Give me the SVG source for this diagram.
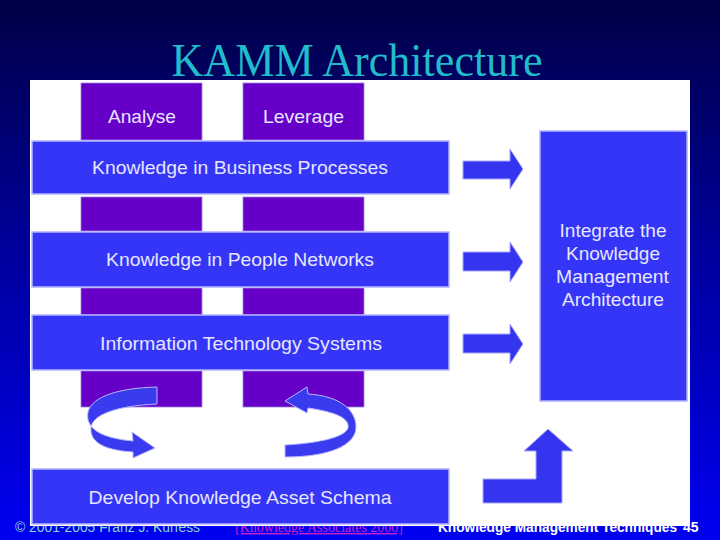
<svg xmlns="http://www.w3.org/2000/svg" width="720" height="540" viewBox="0 0 720 540">
  <defs>
    <linearGradient id="bg" x1="0" y1="0" x2="0" y2="1">
      <stop offset="0" stop-color="#000046"/>
      <stop offset="0.45" stop-color="#00009a"/>
      <stop offset="1" stop-color="#0000f2"/>
    </linearGradient>
    <style>
      .bar { fill: #3535f8; stroke: #b4b4ff; stroke-width: 1.5; }
      .pur { fill: #6600c8; stroke: #9a7ee0; stroke-width: 0.8; }
      .lbl { font-family: "Liberation Sans", Arial, sans-serif; font-size: 19px; fill: #e6e6ff; text-anchor: middle; }
      .arr { fill: #3535f0; stroke: #a8a8ff; stroke-width: 1; }
      .curl { fill: #3a3aee; stroke: #b8b8ff; stroke-width: 1; }
    </style>
  </defs>

  <rect x="0" y="0" width="720" height="540" fill="url(#bg)"/>

  <g id="title">
    <text x="357" y="76" font-family="'Liberation Serif', 'Times New Roman', serif" font-size="46" fill="#20bccb" text-anchor="middle" textLength="371" lengthAdjust="spacingAndGlyphs">KAMM Architecture</text>
  </g>

  <g id="footer">
    <text x="15" y="532" font-family="'Liberation Sans', Arial, sans-serif" font-size="14" fill="#86d6d0" textLength="185" lengthAdjust="spacingAndGlyphs">© 2001-2005 Franz J. Kurfess</text>
    <text x="235" y="532" font-family="'Liberation Serif', 'Times New Roman', serif" font-size="14" fill="#cc22cc" text-decoration="underline" textLength="168" lengthAdjust="spacingAndGlyphs">[Knowledge Associates 2000]</text>
    <text x="438" y="532" font-family="'Liberation Sans', Arial, sans-serif" font-size="14" font-weight="bold" fill="#ffffff" textLength="239" lengthAdjust="spacingAndGlyphs">Knowledge Management Techniques</text>
    <text x="683" y="532" font-family="'Liberation Sans', Arial, sans-serif" font-size="14" font-weight="bold" fill="#ffffff">45</text>
  </g>

  <rect id="canvas" x="30" y="80" width="660" height="446" fill="#ffffff"/>

  <g id="pillars">
    <rect class="pur" x="81" y="197" width="121" height="34"/>
    <rect class="pur" x="243" y="197" width="121" height="34"/>
    <rect class="pur" x="81" y="288" width="121" height="27"/>
    <rect class="pur" x="243" y="288" width="121" height="27"/>
    <rect class="pur" x="81" y="371" width="121" height="36"/>
    <rect class="pur" x="243" y="371" width="121" height="36"/>
  </g>

  <g id="analyse">
    <rect class="pur" x="81" y="83" width="121" height="57"/>
    <text class="lbl" x="142" y="123" textLength="68" lengthAdjust="spacingAndGlyphs">Analyse</text>
  </g>
  <g id="leverage">
    <rect class="pur" x="243" y="83" width="121" height="57"/>
    <text class="lbl" x="303.5" y="123" textLength="81" lengthAdjust="spacingAndGlyphs">Leverage</text>
  </g>

  <g id="business-processes">
    <rect class="bar" x="32" y="141" width="417" height="53"/>
    <text class="lbl" x="240" y="174" textLength="296" lengthAdjust="spacingAndGlyphs">Knowledge in Business Processes</text>
  </g>
  <g id="people-networks">
    <rect class="bar" x="32" y="232" width="417" height="55"/>
    <text class="lbl" x="240" y="266" textLength="268" lengthAdjust="spacingAndGlyphs">Knowledge in People Networks</text>
  </g>
  <g id="it-systems">
    <rect class="bar" x="32" y="315" width="417" height="55"/>
    <text class="lbl" x="241" y="350" textLength="282" lengthAdjust="spacingAndGlyphs">Information Technology Systems</text>
  </g>
  <g id="asset-schema">
    <rect class="bar" x="32" y="469" width="417" height="55"/>
    <text class="lbl" x="240" y="504" textLength="303" lengthAdjust="spacingAndGlyphs">Develop Knowledge Asset Schema</text>
  </g>

  <g id="integrate">
    <rect class="bar" x="540" y="131" width="147" height="270"/>
    <text class="lbl" x="613" y="237" textLength="107" lengthAdjust="spacingAndGlyphs">Integrate the</text>
    <text class="lbl" x="613" y="260" textLength="94" lengthAdjust="spacingAndGlyphs">Knowledge</text>
    <text class="lbl" x="612.5" y="283" textLength="113" lengthAdjust="spacingAndGlyphs">Management</text>
    <text class="lbl" x="613" y="306" textLength="102" lengthAdjust="spacingAndGlyphs">Architecture</text>
  </g>

  <g id="connectors">
    <path class="arr" d="M463,161 H510 V149 L523,169 L510,189 V179 H463 Z"/>
    <path class="arr" d="M463,252 H510 V242 L523,262 L510,282 V271 H463 Z"/>
    <path class="arr" d="M463,334 H510 V324 L523,344 L510,364 V353 H463 Z"/>
    <path class="arr" d="M483,479 H536 V451 H524 L548,429 L573,451 H562 V503 H483 Z"/>
    <path class="curl" d="M157,387 C120,388 92,396 88,412 C85,428 100,438 133,441 L132,432 L155,448 L133,458 L133,452 C100,450 90,440 91,428 C92,415 115,406 157,404 Z"/>
    <path class="curl" d="M285,445 C320,443 345,437 348,428 C350,418 335,412 308,408 L307,413 L285,401 L307,387 L308,394 C340,396 356,410 356,427 C356,445 330,457 285,457 Z"/>
  </g>
</svg>
